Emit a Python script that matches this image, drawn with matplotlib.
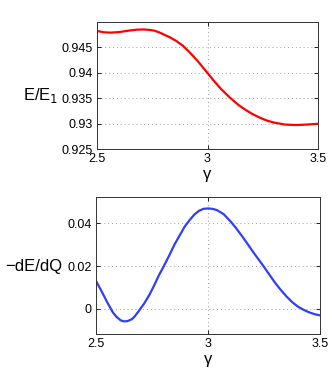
import numpy as np
import matplotlib.pyplot as plt

plt.rcParams['font.family'] = ['Liberation Sans', 'DejaVu Sans']

# E/E1 vs gamma
gamma_e = [2.50, 2.53, 2.56, 2.60, 2.65, 2.68, 2.71, 2.74, 2.76, 2.78, 2.80, 2.83,
           2.86, 2.89, 2.925, 2.96, 3.00, 3.03, 3.06, 3.10, 3.14, 3.17, 3.20, 3.225,
           3.25, 3.275, 3.30, 3.35, 3.40, 3.45, 3.50]
energy = [0.94825, 0.94800, 0.94792, 0.94803, 0.94835, 0.94850, 0.94855, 0.94845,
          0.94830, 0.94800, 0.94760, 0.94700, 0.94625, 0.94530, 0.94380, 0.94210,
          0.94000, 0.93840, 0.93690, 0.93520, 0.93370, 0.93280, 0.93200, 0.93145,
          0.93095, 0.93055, 0.93025, 0.92985, 0.92975, 0.92985, 0.93000]

# -dE/dQ vs gamma
gamma_d = [2.50, 2.52, 2.537, 2.55, 2.575, 2.59, 2.61, 2.624, 2.64, 2.66, 2.672, 2.69,
           2.716, 2.74, 2.761, 2.78, 2.806, 2.83, 2.851, 2.875, 2.896, 2.92, 2.94,
           2.96, 2.98, 3.00, 3.02, 3.04, 3.07, 3.10, 3.125, 3.15, 3.175, 3.20, 3.225,
           3.25, 3.275, 3.30, 3.325, 3.35, 3.375, 3.40, 3.425, 3.45, 3.475, 3.50]
deriv = [0.0131, 0.0092, 0.0058, 0.0031, -0.0016, -0.0036, -0.0054, -0.0059,
         -0.0058, -0.0049, -0.0037, -0.0012, 0.0026, 0.0068, 0.0112, 0.0155, 0.0206,
         0.0256, 0.0302, 0.0346, 0.0385, 0.0418, 0.0442, 0.0459, 0.0468, 0.0470,
         0.0468, 0.0462, 0.0443, 0.0410, 0.0378, 0.0343, 0.0306, 0.0268, 0.0232,
         0.0196, 0.0158, 0.0121, 0.0088, 0.0058, 0.0032, 0.0011, -0.0004, -0.0016,
         -0.0025, -0.0031]

fig = plt.figure(figsize=(3.32, 3.74), dpi=100)
ax1 = fig.add_axes([0.292, 0.601, 0.666, 0.340])
ax2 = fig.add_axes([0.289, 0.107, 0.675, 0.366])

ax1.plot(gamma_e, energy, color='#ff0000', linewidth=1.6)
ax1.set_xlim(2.5, 3.5)
ax1.set_ylim(0.925, 0.95)
ax1.set_xticks([2.5, 3, 3.5])
ax1.set_xticklabels(['2.5', '3', '3.5'])
ax1.set_yticks([0.925, 0.93, 0.935, 0.94, 0.945])
ax1.set_yticklabels(['0.925', '0.93', '0.935', '0.94', '0.945'])
ax1.set_xlabel('γ', fontsize=12, labelpad=1)
ax1.set_ylabel('E/E$_1$', fontsize=12, rotation=0, ha='right', va='center')
ax1.yaxis.set_label_coords(-0.175, 0.42)

ax2.plot(gamma_d, deriv, color='#2f3ff8', linewidth=1.6)
ax2.set_xlim(2.5, 3.5)
ax2.set_ylim(-0.0118, 0.0523)
ax2.set_xticks([2.5, 3, 3.5])
ax2.set_xticklabels(['2.5', '3', '3.5'])
ax2.set_yticks([0, 0.02, 0.04])
ax2.set_yticklabels(['0', '0.02', '0.04'])
ax2.set_xlabel('γ', fontsize=12, labelpad=1)
ax2.set_ylabel('−dE/dQ', fontsize=12, rotation=0, ha='right', va='center')
ax2.yaxis.set_label_coords(-0.15, 0.49)

for ax in (ax1, ax2):
    ax.grid(True, linestyle=(0, (1, 3)), color='#a0a0a0', linewidth=0.7)
    ax.tick_params(direction='in', length=3, labelsize=9, pad=3,
                   top=True, right=True, width=0.6)
    for s in ax.spines.values():
        s.set_linewidth(0.7)
        s.set_color('#333333')

fig.savefig('out.png', dpi=100)
